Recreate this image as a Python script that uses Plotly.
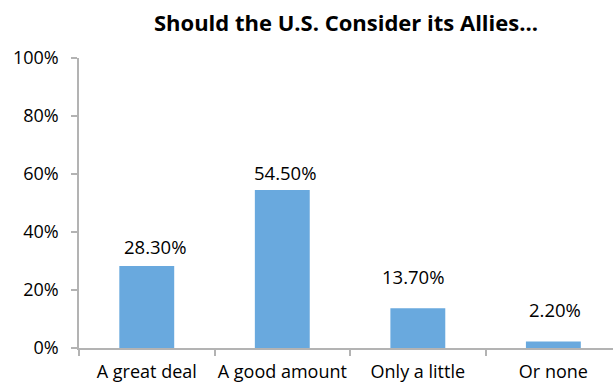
import plotly.graph_objects as go

# Survey answers and their shares (percent)
categories = ["A great deal", "A good amount", "Only a little", "Or none"]
shares = [28.3, 54.5, 13.7, 2.2]
y_ticks = [0, 20, 40, 60, 80, 100]

# Per-label nudges (px) for the value labels
label_dx = [8, 3, -5, 2]
label_dy = [19, 17, 32, 32]

FONT = "Open Sans"
AXIS_GRAY = "#B3B3B3"

fig = go.Figure(
    go.Bar(
        x=categories,
        y=shares,
        width=0.405,
        marker=dict(color="#69A9DE", line=dict(width=0)),
        hoverinfo="skip",
    )
)

for cat, val, dx, dy in zip(categories, shares, label_dx, label_dy):
    fig.add_annotation(
        x=cat, y=val, xref="x", yref="y",
        text=f"{val:.2f}%",
        showarrow=False,
        xanchor="center", yanchor="middle",
        xshift=dx, yshift=dy,
        font=dict(family=FONT, size=18.5, color="#000000"),
    )

fig.update_layout(
    width=613,
    height=385,
    margin=dict(l=79, r=0, t=58, b=37),
    paper_bgcolor="white",
    plot_bgcolor="white",
    showlegend=False,
    font=dict(family=FONT, size=18, color="#000000"),
    title=dict(
        text="<b>Should the U.S. Consider its Allies...</b>",
        font=dict(family=FONT, size=22, color="#000000"),
        x=0.5, xref="paper", xanchor="center",
        y=1 - 23 / 385, yref="container", yanchor="middle",
    ),
    xaxis=dict(
        type="category",
        range=[-0.5, 3.44],
        automargin=False,
        tickangle=0,
        showline=True,
        linecolor=AXIS_GRAY,
        linewidth=1.5,
        ticks="outside",
        tickson="boundaries",
        ticklen=6,
        tickcolor=AXIS_GRAY,
        tickwidth=1.5,
        showgrid=False,
        zeroline=False,
        ticklabelstandoff=7,
        tickfont=dict(family=FONT, size=18, color="#000000"),
    ),
    yaxis=dict(
        range=[0, 100],
        automargin=False,
        tickvals=y_ticks,
        ticktext=[f"{t}%" for t in y_ticks],
        showline=True,
        linecolor=AXIS_GRAY,
        linewidth=1.5,
        ticks="outside",
        ticklen=6,
        tickcolor=AXIS_GRAY,
        tickwidth=1.5,
        showgrid=False,
        zeroline=False,
        ticklabelstandoff=9,
        tickfont=dict(family=FONT, size=18, color="#000000"),
    ),
)

fig.write_html("out.html")
